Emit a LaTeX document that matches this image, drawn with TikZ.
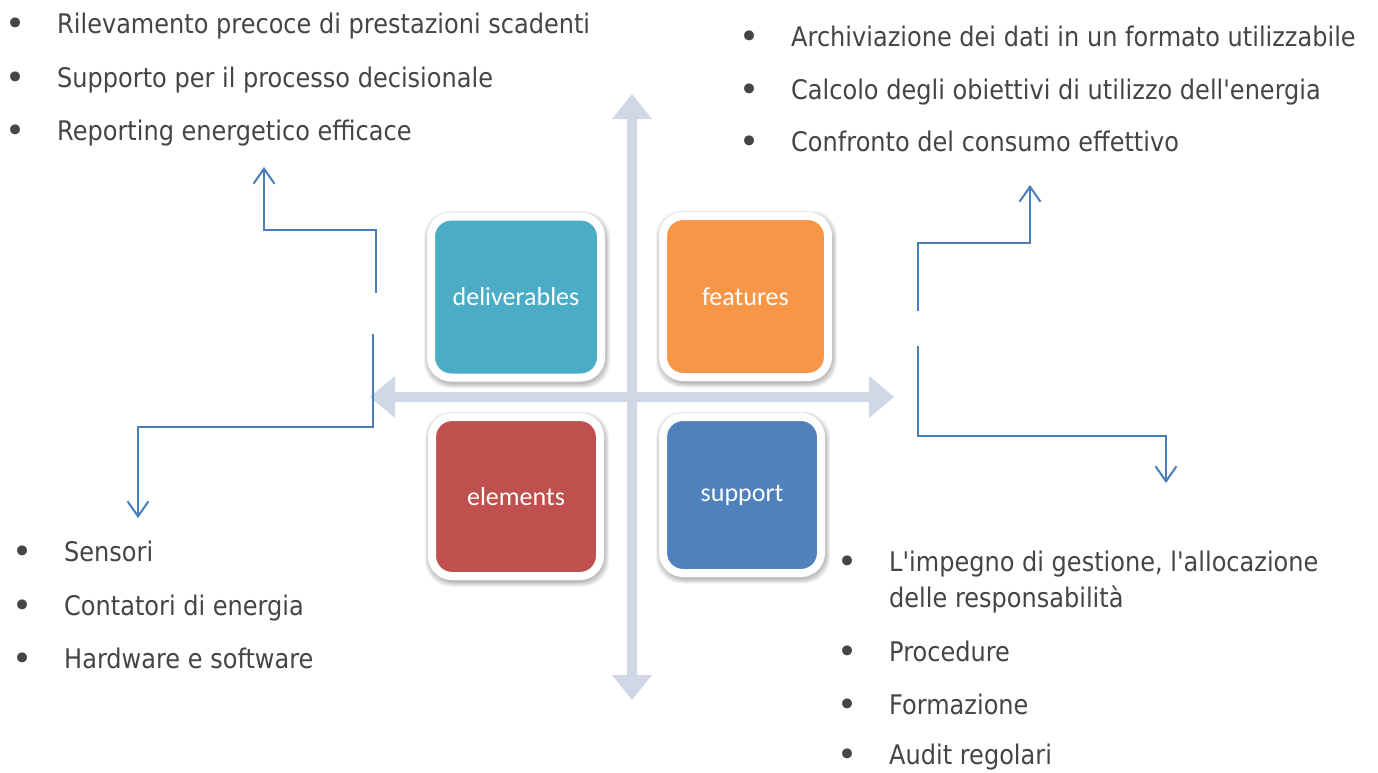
\documentclass[tikz,border=0pt]{standalone}
\usepackage{fontspec}
\setmainfont{DejaVu Sans}[FakeStretch=0.89, Ligatures=TeXOff]
\newfontfamily\bulfont{DejaVu Sans}
\newfontfamily\boxfont{Carlito}
\usetikzlibrary{arrows.meta,backgrounds}
\definecolor{axisc}{HTML}{D0D8E8}
\definecolor{linec}{HTML}{4A7EBB}
\definecolor{txtc}{HTML}{454545}
\definecolor{cdel}{HTML}{4BACC6}
\definecolor{cfea}{HTML}{F79646}
\definecolor{cele}{HTML}{C0504D}
\definecolor{csup}{HTML}{4F81BD}
\tikzset{
  quad/.style={draw=white, line width=8pt, rounded corners=20pt, inner sep=0pt,
    text=white, font=\boxfont\fontsize{26}{30}\selectfont},
  item/.style={anchor=base west, inner sep=0pt, text=txtc, font=\fontsize{27}{31}\selectfont},
  elbow/.style={draw=linec, line width=2pt, arrows={-Straight Barb[length=15pt,width=21pt]}},
  axisfill/.style={fill=axisc},
  shadowlayer/.style={fill=black, opacity=0.055, rounded corners=26pt}
}
\newcommand{\bul}[1]{\makebox[0pt][c]{\smash{\raisebox{-2.5pt}{\bulfont\fontsize{34}{34}\selectfont •}}}\hspace{42pt}#1}
\newcommand{\softshadow}[1]{%
  \foreach \e in {0,1,2,3,4} {%
    \fill[shadowlayer] ([shift={(-\e+1,-\e+2.5)}]#1.north west) rectangle ([shift={(\e+1,\e+2.5)}]#1.south east);
  }}
\begin{document}
\begin{tikzpicture}[x=1pt,y=-1pt]
\useasboundingbox (0,0) rectangle (1378,772);
% axes
\fill[axisfill] (632,94) -- (652,119) -- (637,119) -- (637,675) -- (652,675) -- (632,700) -- (612,675) -- (627,675) -- (627,119) -- (612,119) -- cycle;
\fill[axisfill] (370,397) -- (395,376) -- (395,392) -- (869,392) -- (869,376) -- (894,397) -- (869,418) -- (869,402) -- (395,402) -- (395,418) -- cycle;
% boxes
\node[quad, fill=cdel, minimum width=170pt, minimum height=161pt] (deliverables) at (516,297) {deliverables};
\node[quad, fill=cfea, minimum width=165pt, minimum height=161pt] (features) at (745.5,296.5) {features};
\node[quad, fill=cele, minimum width=168pt, minimum height=159pt] (elements) at (516,496.5) {elements};
\node[quad, fill=csup, minimum width=158pt, minimum height=156pt] (support) at (742,495) {support};
\begin{scope}[on background layer]
\fill[white] (0,0) rectangle (1378,772);
\softshadow{deliverables}
\softshadow{features}
\softshadow{elements}
\softshadow{support}
\end{scope}
% elbow connectors
\coordinate (l1s) at (376,293); \coordinate (l1e) at (264,167);
\coordinate (l2s) at (373,334); \coordinate (l2e) at (138,518);
\coordinate (r1s) at (918,311); \coordinate (r1e) at (1030,185);
\coordinate (r2s) at (918,346); \coordinate (r2e) at (1166,483);
\draw[elbow] (l1s) -- (376,230) -| (l1e);
\draw[elbow] (l2s) -- (373,427) -| (l2e);
\draw[elbow] (r1s) -- (918,243) -| (r1e);
\draw[elbow] (r2s) -- (918,436) -| (r2e);
% lists
\node[item] (tl1) at (15,33) {\bul{Rilevamento precoce di prestazioni scadenti}};
\node[item] (tl2) at (15,87) {\bul{Supporto per il processo decisionale}};
\node[item] (tl3) at (15,140) {\bul{Reporting energetico efficace}};
\node[item] (tr1) at (749,46) {\bul{Archiviazione dei dati in un formato utilizzabile}};
\node[item] (tr2) at (749,99) {\bul{Calcolo degli obiettivi di utilizzo dell'energia}};
\node[item] (tr3) at (749,151) {\bul{Confronto del consumo effettivo}};
\node[item] (bl1) at (22,561) {\bul{Sensori}};
\node[item] (bl2) at (22,615) {\bul{Contatori di energia}};
\node[item] (bl3) at (22,668) {\bul{Hardware e software}};
\node[item] (br1) at (847,571) {\bul{L'impegno di gestione, l'allocazione}};
\node[item] (br1b) at (889,607) {delle responsabilità};
\node[item] (br2) at (847,661) {\bul{Procedure}};
\node[item] (br3) at (847,714) {\bul{Formazione}};
\node[item] (br4) at (847,764) {\bul{Audit regolari}};
\end{tikzpicture}
\end{document}
